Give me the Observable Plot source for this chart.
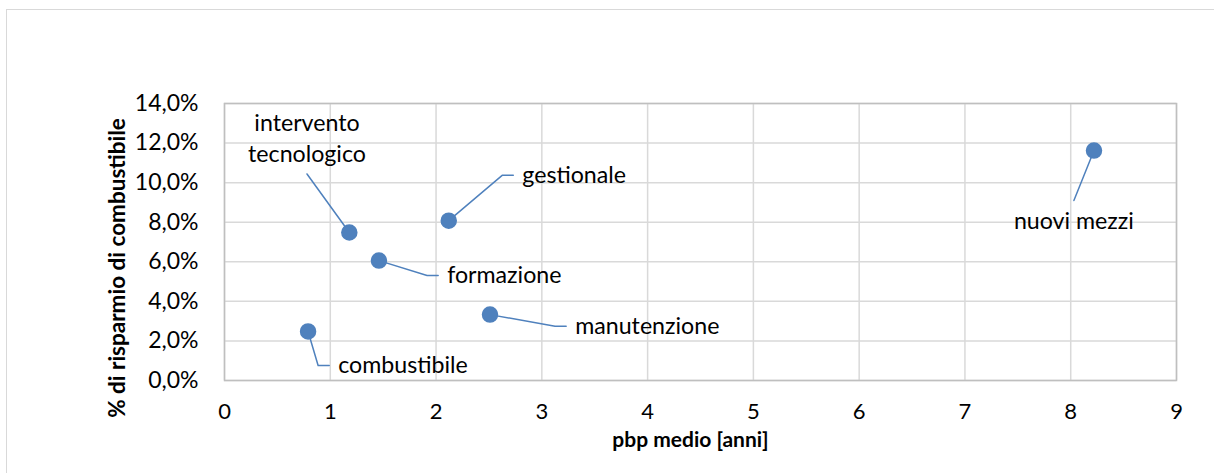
<!DOCTYPE html>
<html>
<head>
<meta charset="utf-8">
<script src="https://cdn.jsdelivr.net/npm/d3@7"></script>
<script src="https://cdn.jsdelivr.net/npm/@observablehq/plot@0.6"></script>
<style>
  html, body { margin: 0; padding: 0; background: #fff; }
  #wrap { position: relative; width: 1214px; height: 473px; overflow: hidden; }
  #border { position: absolute; left: 6px; top: 9px; width: 1400px; height: 700px;
            border-left: 1.5px solid #d9d9d9; border-top: 1.5px solid #d9d9d9; }
  #chart { position: absolute; left: 0; top: 0; }
  svg { font-family: Lato, "Liberation Sans", sans-serif; }
</style>
</head>
<body>
<div id="wrap"><div id="border"></div><div id="chart"></div></div>
<script>
// ---- data ----
const names   = ["combustibile", "intervento\ntecnologico", "formazione", "gestionale", "manutenzione", "nuovi mezzi"];
const pbp     = [0.79, 1.18, 1.46, 2.12, 2.51, 8.22];    // pbp medio [anni]
const saving  = [2.48, 7.48, 6.06, 8.08, 3.33, 11.62];   // % di risparmio di combustibile
// where each label's leader line ends (data units)
const labelX  = [0.99, 0.78, 2.02, 2.73, 3.23, 8.03];
const labelY  = [0.76, 10.44, 5.31, 10.37, 2.74, 9.10];
const leader  = ["elbow", "above", "elbow", "elbow", "elbow", "below"];
const xTicks  = [0, 1, 2, 3, 4, 5, 6, 7, 8, 9];
const yTicks  = [0, 2, 4, 6, 8, 10, 12, 14];
const xTitle  = "pbp medio [anni]";
const yTitle  = "% di risparmio di combustibile";

const pts = names.map((n, i) => ({name: n, x: pbp[i], y: saving[i], lx: labelX[i], ly: labelY[i], kind: leader[i]}));

// leader line polylines
const segs = [];
pts.forEach((p, i) => {
  segs.push({id: i, x: p.x, y: p.y});
  if (p.kind === "elbow") segs.push({id: i, x: p.lx - 0.105, y: p.ly});
  segs.push({id: i, x: p.lx, y: p.ly});
});

const blue = "#4f81bd";
const fmtPct = d => d.toFixed(1).replace(".", ",") + "%";
const LF = 23.2;

const chart = Plot.plot({
  width: 1214,
  height: 473,
  marginLeft: 224,
  marginRight: 38,
  marginTop: 103,
  marginBottom: 93,
  style: {fontFamily: "Lato, 'Liberation Sans', sans-serif", background: "transparent"},
  x: {domain: [0, 9], ticks: xTicks},
  y: {domain: [0, 14], ticks: yTicks},
  marks: [
    Plot.gridX(xTicks, {stroke: "#d9d9d9", strokeOpacity: 1, strokeWidth: 1.5}),
    Plot.gridY(yTicks, {stroke: "#d9d9d9", strokeOpacity: 1, strokeWidth: 1.5}),
    Plot.frame({stroke: "#bfbfbf", strokeWidth: 1.5}),
    Plot.axisX(xTicks, {tickSize: 0, tickPadding: 23, fontSize: 22, label: null, fill: "#000"}),
    Plot.axisY(yTicks, {tickSize: 0, tickPadding: 26, fontSize: 23, label: null, tickFormat: fmtPct, fill: "#000"}),
    Plot.line(segs, {x: "x", y: "y", z: "id", stroke: blue, strokeWidth: 1.5}),
    Plot.dot(pts, {x: "x", y: "y", r: 7.5, fill: blue, stroke: blue}),
    Plot.text(pts.filter(p => p.kind === "elbow"), {x: "lx", y: "ly", text: "name", textAnchor: "start", dx: 9, fontSize: LF, fill: "#000"}),
    Plot.text(pts.filter(p => p.kind === "above"), {x: "lx", y: "ly", text: "name", textAnchor: "middle", lineAnchor: "bottom", lineHeight: 1.33, dy: -12, fontSize: LF, fill: "#000"}),
    Plot.text(pts.filter(p => p.kind === "below"), {x: "lx", y: "ly", text: "name", textAnchor: "middle", lineAnchor: "top", dy: 12, fontSize: LF, fill: "#000"}),
    Plot.text([xTitle], {frameAnchor: "bottom", textAnchor: "middle", dx: -10, dy: 66, fontSize: 21, fontWeight: "bold", fill: "#000"}),
    Plot.text([yTitle], {frameAnchor: "left", textAnchor: "middle", rotate: -90, dx: -107, dy: 26, fontSize: 22.5, fontWeight: "bold", fill: "#000"})
  ]
});
document.getElementById("chart").appendChild(chart);
</script>
</body>
</html>
